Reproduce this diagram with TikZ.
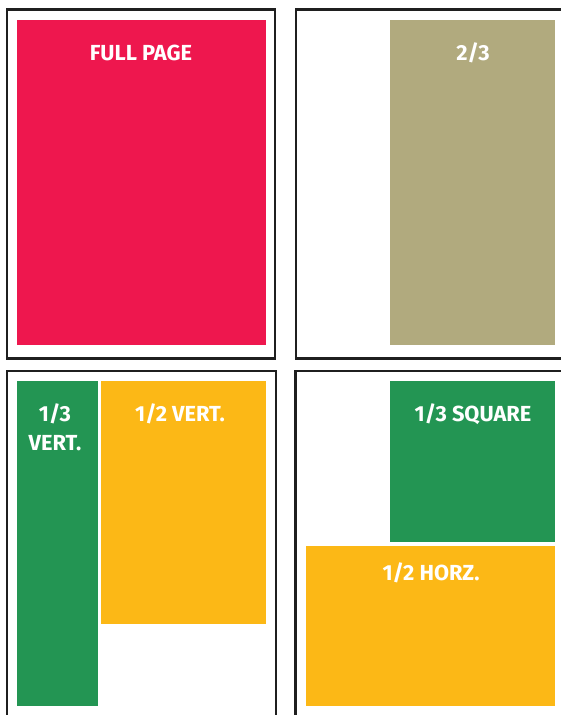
\documentclass[tikz,border=0pt]{standalone}
\usepackage{fontspec}
\newfontfamily\adfont{Fira Sans}
\usetikzlibrary{positioning}
\definecolor{adred}{RGB}{238,23,78}
\definecolor{adolive}{RGB}{177,170,126}
\definecolor{adgreen}{RGB}{35,149,83}
\definecolor{adyellow}{RGB}{252,184,22}
\tikzset{
  pagebox/.style={draw=black!88, line width=2.8pt},
  adblock/.style={fill=#1},
  adlab/.style={text=white, font=\adfont\bfseries\fontsize{21.8}{28.5}\selectfont,
                inner sep=0pt, align=center}
}
\begin{document}
\begin{tikzpicture}[x=1pt,y=-1pt]
\useasboundingbox (0,0) rectangle (561,715);
\clip (0,0) rectangle (561,715);
% page frames
\draw[pagebox] (7,9.5) rectangle (275,358.5);
\draw[pagebox] (296,9.5) rectangle (590,358.5);
\draw[pagebox] (7,371) rectangle (276,740);
\draw[pagebox] (295.5,371) rectangle (590,740);
% ad sizes
\fill[adblock=adred] (17,20) rectangle (266,345);
\fill[adblock=adolive] (390,20) rectangle (555,345);
\fill[adblock=adgreen] (17,381) rectangle (98,706);
\fill[adblock=adyellow] (101,381) rectangle (266,624);
\fill[adblock=adgreen] (390,381) rectangle (555,542);
\fill[adblock=adyellow] (306,546) rectangle (555,706);
% labels
\node[adlab, anchor=base] (full) at (141,60) {FULL PAGE};
\node[adlab, anchor=base] (twothird) at (473,60) {2/3};
\node[adlab, anchor=north] (thirdvert) at (55,404) {1/3\\VERT.};
\node[adlab, anchor=base] (halfvert) at (180,421) {1/2 VERT.};
\node[adlab, anchor=base] (thirdsq) at (473,421) {1/3 SQUARE};
\node[adlab, anchor=base] (halfhorz) at (431,580) {1/2 HORZ.};
\end{tikzpicture}
\end{document}
